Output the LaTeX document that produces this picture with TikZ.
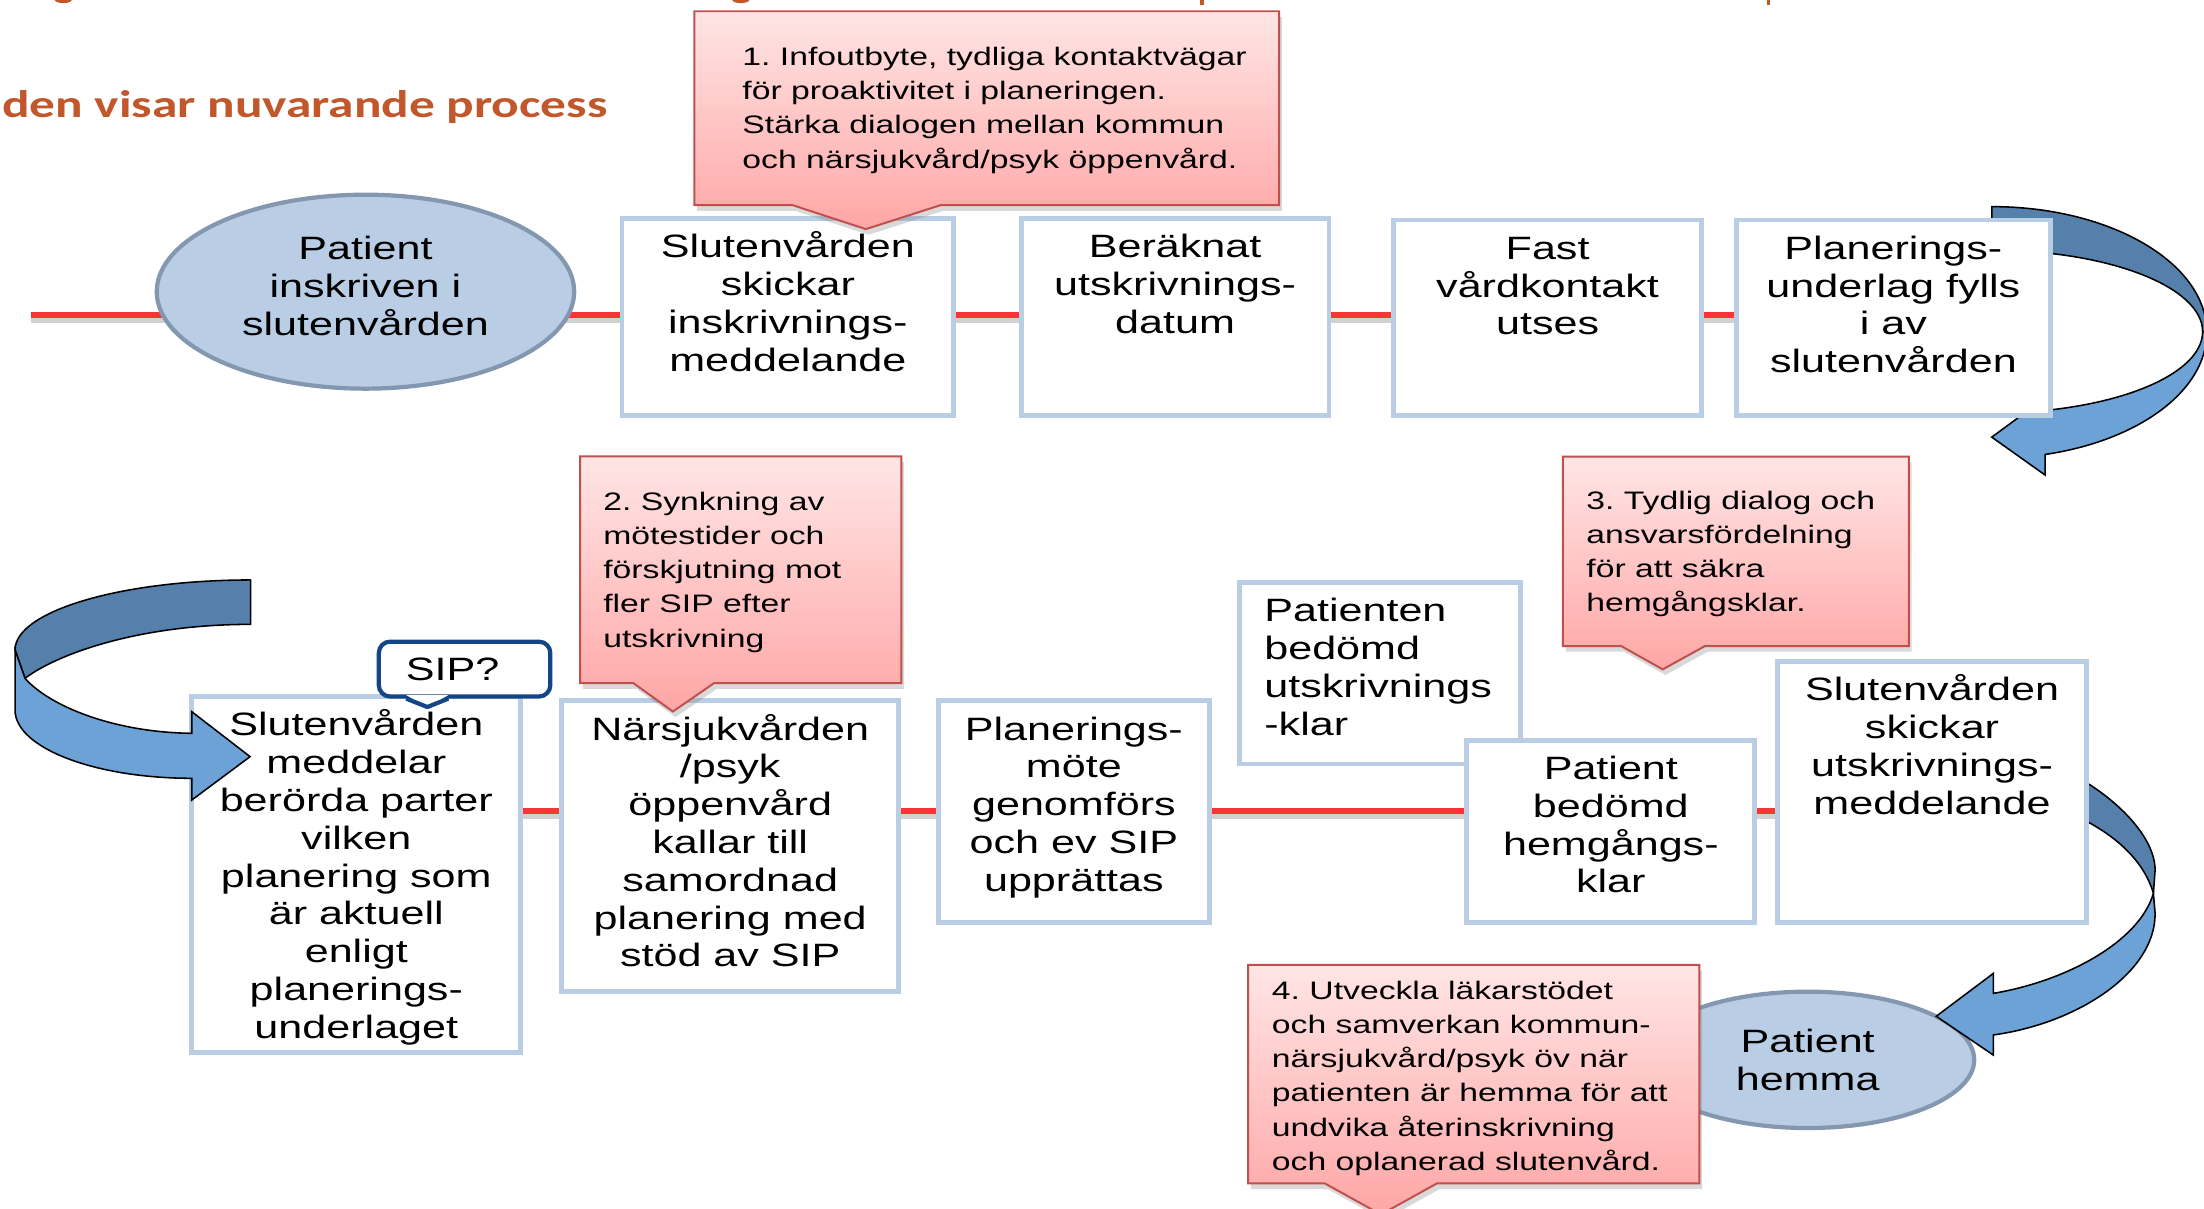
\documentclass[tikz,border=0pt]{standalone}
\usepackage{fontspec}
\setmainfont{Liberation Sans}
\newfontfamily\lsans[FakeStretch=1.333]{Liberation Sans}
\newfontfamily\carl[FakeStretch=1.333]{Carlito}
\usetikzlibrary{shadows,calc,shapes.geometric,backgrounds}
\frenchspacing

\definecolor{boxborder}{RGB}{185,205,229}
\definecolor{ellfill}{RGB}{185,205,229}
\definecolor{elldraw}{RGB}{132,151,176}
\definecolor{tline}{RGB}{250,52,52}
\definecolor{calltop}{RGB}{255,229,229}
\definecolor{callbot}{RGB}{255,166,166}
\definecolor{calldraw}{RGB}{192,80,77}
\definecolor{sipblue}{RGB}{20,70,135}
\definecolor{titlecol}{RGB}{193,87,43}
\definecolor{arrdark}{RGB}{86,128,172}
\definecolor{arrlight}{RGB}{108,162,214}

\newcommand{\bxfont}{\lsans\fontsize{23}{26.9}\selectfont}
\newcommand{\clfont}{\lsans\fontsize{18}{24.3}\selectfont\frenchspacing}
\newcommand{\ttlfont}{\carl\bfseries\fontsize{27.4}{32}\selectfont}
\newcommand{\bxc}[3]{\parbox[c][#2pt][t]{#1pt}{\bxfont\centering\rule{0pt}{28pt}#3}}
\newcommand{\bxl}[3]{\parbox[c][#2pt][t]{#1pt}{\bxfont\raggedright\leftskip=18pt\rule{0pt}{28pt}#3}}

\begin{document}
\begin{tikzpicture}[x=1pt,y=-1pt,
  procbox/.style={draw=boxborder,line width=3.5pt,fill=white,inner sep=0pt,rectangle},
  stateell/.style={ellipse,draw=elldraw,fill=ellfill,line width=3pt,inner sep=0pt,align=center,font=\bxfont},
  calloutshape/.style={top color=calltop,bottom color=callbot,draw=calldraw,line width=1.4pt,
     drop shadow={opacity=0.3,shadow xshift=2pt,shadow yshift=-4pt}},
  calltext/.style={inner sep=0pt,align=left,font=\clfont,anchor=north west},
  ribdark/.style={fill=arrdark,draw=black,line width=1.1pt,line join=round},
  riblight/.style={fill=arrlight,draw=black,line width=1.1pt},
  timeline/.style={draw=tline,line width=4pt},
  timeshadow/.style={draw=black!60,line width=4pt,opacity=0.3}
]
\useasboundingbox (0,0) rectangle (1568,860);

% title fragment and cut-off title letters
\node[anchor=base west,inner sep=0pt,text=titlecol,font=\ttlfont] (title) at (1.5,83.5) {den visar nuvarande process};
\fill[titlecol] (45,0) ellipse [x radius=6, y radius=2.2];
\fill[titlecol] (527,0) ellipse [x radius=6, y radius=2.2];
\fill[titlecol] (854,0) rectangle (856.5,3.5);
\fill[titlecol] (1257,0) rectangle (1259.5,3.5);

\coordinate (tlA) at (22,224);
\coordinate (tlB) at (372,577);

% ---------- top row ----------
\node[stateell,minimum width=297pt,minimum height=138pt] (e1) at (260,207.5)
  {Patient\\inskriven i\\slutenvården\rule[-8pt]{0pt}{8pt}};
\node[procbox] (b1) at (560.5,225.5) {\bxc{236}{140}{Slutenvården\\skickar\\inskrivnings-\\meddelande}};
\node[procbox] (b2) at (836,225.5) {\bxc{219}{140}{Beräknat\\utskrivnings-\\datum}};
\node[procbox] (b3) at (1101,226) {\bxc{219}{139}{Fast\\vårdkontakt\\utses}};

% top right ribbon arrow
\path[ribdark] (1417,147) .. controls (1501.5,147) and (1570,187.1) .. (1570,236.5)
  -- (1567,236) .. controls (1567,204) and (1499.8,178) .. (1417,178) -- cycle;
\path[riblight] (1570,236.5) .. controls (1570,277.6) and (1522.1,313.4) .. (1455,323.3)
  -- (1455,338) -- (1417,311) -- (1455,283) -- (1455,292)
  .. controls (1521.4,285.2) and (1567,262.2) .. (1567,236) -- cycle;

\node[procbox] (b4) at (1347,226) {\bxc{223}{139}{Planerings-\\underlag fylls\\i av\\slutenvården}};

% callout 1
\path[calloutshape] (494,8) -- (910,8) -- (910,146) -- (669,146) -- (616,163) -- (564,146) -- (494,146) -- cycle;
\node[calltext] (c1) at (528,29.5) {\rule{0pt}{17pt}1. Infoutbyte, tydliga kontaktvägar\\för proaktivitet i planeringen.\\Stärka dialogen mellan kommun\\och närsjukvård/psyk öppenvård.};

% ---------- bottom row ----------
\node[procbox] (l1) at (253.5,622) {\bxc{234}{253}{Slutenvården\\meddelar\\berörda parter\\vilken\\planering som\\är aktuell\\enligt\\planerings-\\underlaget}};
\node[procbox] (l2) at (519.5,602) {\bxc{240}{207}{Närsjukvården\\/psyk\\öppenvård\\kallar till\\samordnad\\planering med\\stöd av SIP}};
\node[procbox] (l3) at (764,577.5) {\bxc{193}{158}{Planerings-\\möte\\genomförs\\och ev SIP\\upprättas}};
\node[procbox] (l4) at (981.5,479) {\bxl{200}{129}{Patienten\\bedömd\\utskrivnings\\-klar}};
\node[procbox] (l5) at (1146,591.5) {\bxc{205}{130}{Patient\\bedömd\\hemgångs-\\klar}};

% patient hemma
\node[stateell,minimum width=237pt,minimum height=97pt] (e2) at (1286,754) {Patient\\hemma};

% bottom right ribbon arrow
\path[ribdark] (1478,553) .. controls (1505,568) and (1533.2,595) .. (1533.2,619)
  -- (1532,635.5) .. controls (1525,612) and (1505,594) .. (1478,581) -- cycle;
\path[riblight] (1532,635.5) -- (1533.2,649.8) .. controls (1533.5,692) and (1478,728) .. (1418.1,736.3)
  -- (1418.1,750.6) -- (1377.5,723) -- (1418.1,692.5) -- (1418.1,706.7)
  .. controls (1470,698) and (1522,670) .. (1532,635.5) -- cycle;

\node[procbox] (l6) at (1374.5,563.5) {\bxc{220}{186}{Slutenvården\\skickar\\utskrivnings-\\meddelande}};

% left ribbon arrow
\path[ribdark] (178.3,412.6) .. controls (85.8,412.6) and (10.7,434.9) .. (10.7,462.4)
  -- (17.8,482.6) .. controls (38,467) and (95,444.2) .. (178.3,444.2) -- cycle;
\path[riblight] (10.7,462.4) -- (10.7,505.1) .. controls (10.7,531.9) and (67,553.7) .. (136.4,553.7)
  -- (136.4,569.2) -- (177.9,538.3) -- (136.4,506.3) -- (136.4,521.7)
  .. controls (80,521) and (35,502) .. (17.8,482.6) -- cycle;

% SIP? bubble
\node[draw=sipblue,line width=3pt,rounded corners=8pt,fill=white,minimum width=122pt,minimum height=39pt,inner sep=0pt,font=\bxfont] (sip) at (330.5,476) {SIP?\hspace*{17pt}};
\coordinate (sipL) at ($(sip.south west)+(21,0)$);
\coordinate (sipT) at ($(sip.south west)+(36,6)$);
\coordinate (sipR) at ($(sip.south west)+(51,0)$);
\fill[white] ($(sipL)+(0,-2.5)$) -- (sipT) -- ($(sipR)+(0,-2.5)$) -- cycle;
\draw[sipblue,line width=3pt,line join=round] (sipL) -- (sipT) -- (sipR);

% callout 2
\path[calloutshape] (412.7,324.6) -- (641.2,324.6) -- (641.2,486) -- (508,486) -- (478.7,506.2) -- (450.6,486) -- (412.7,486) -- cycle;
\node[calltext] (c2) at (429,345.9) {\rule{0pt}{17pt}2. Synkning av\\mötestider och\\förskjutning mot\\fler SIP efter\\utskrivning};

% callout 3
\path[calloutshape] (1111.8,324.9) -- (1358,324.9) -- (1358,459.6) -- (1213,459.6) -- (1182.9,476.2) -- (1153.3,459.6) -- (1111.8,459.6) -- cycle;
\node[calltext] (c3) at (1128.4,345.2) {\rule{0pt}{17pt}3. Tydlig dialog och\\ansvarsfördelning\\för att säkra\\hemgångsklar.};

% callout 4
\path[calloutshape] (887.9,686.5) -- (1209,686.5) -- (1209,841.9) -- (1022.3,841.9) -- (982.4,864) -- (942.5,841.9) -- (887.9,841.9) -- cycle;
\node[calltext] (c4) at (904.7,693.8) {\rule{0pt}{17pt}4. Utveckla läkarstödet\\och samverkan kommun-\\närsjukvård/psyk öv när\\patienten är hemma för att\\undvika återinskrivning\\och oplanerad slutenvård.};

% timelines behind everything
\begin{scope}[on background layer]
\draw[timeshadow] ($(tlA)+(0,3.5)$) -- ($(tlA -| b4.west)+(0,3.5)$);
\draw[timeline] (tlA) -- (tlA -| b4.west);
\draw[timeshadow] ($(tlB)+(0,3.5)$) -- ($(tlB -| l6.west)+(0,3.5)$);
\draw[timeline] (tlB) -- (tlB -| l6.west);
\end{scope}
\end{tikzpicture}
\end{document}
